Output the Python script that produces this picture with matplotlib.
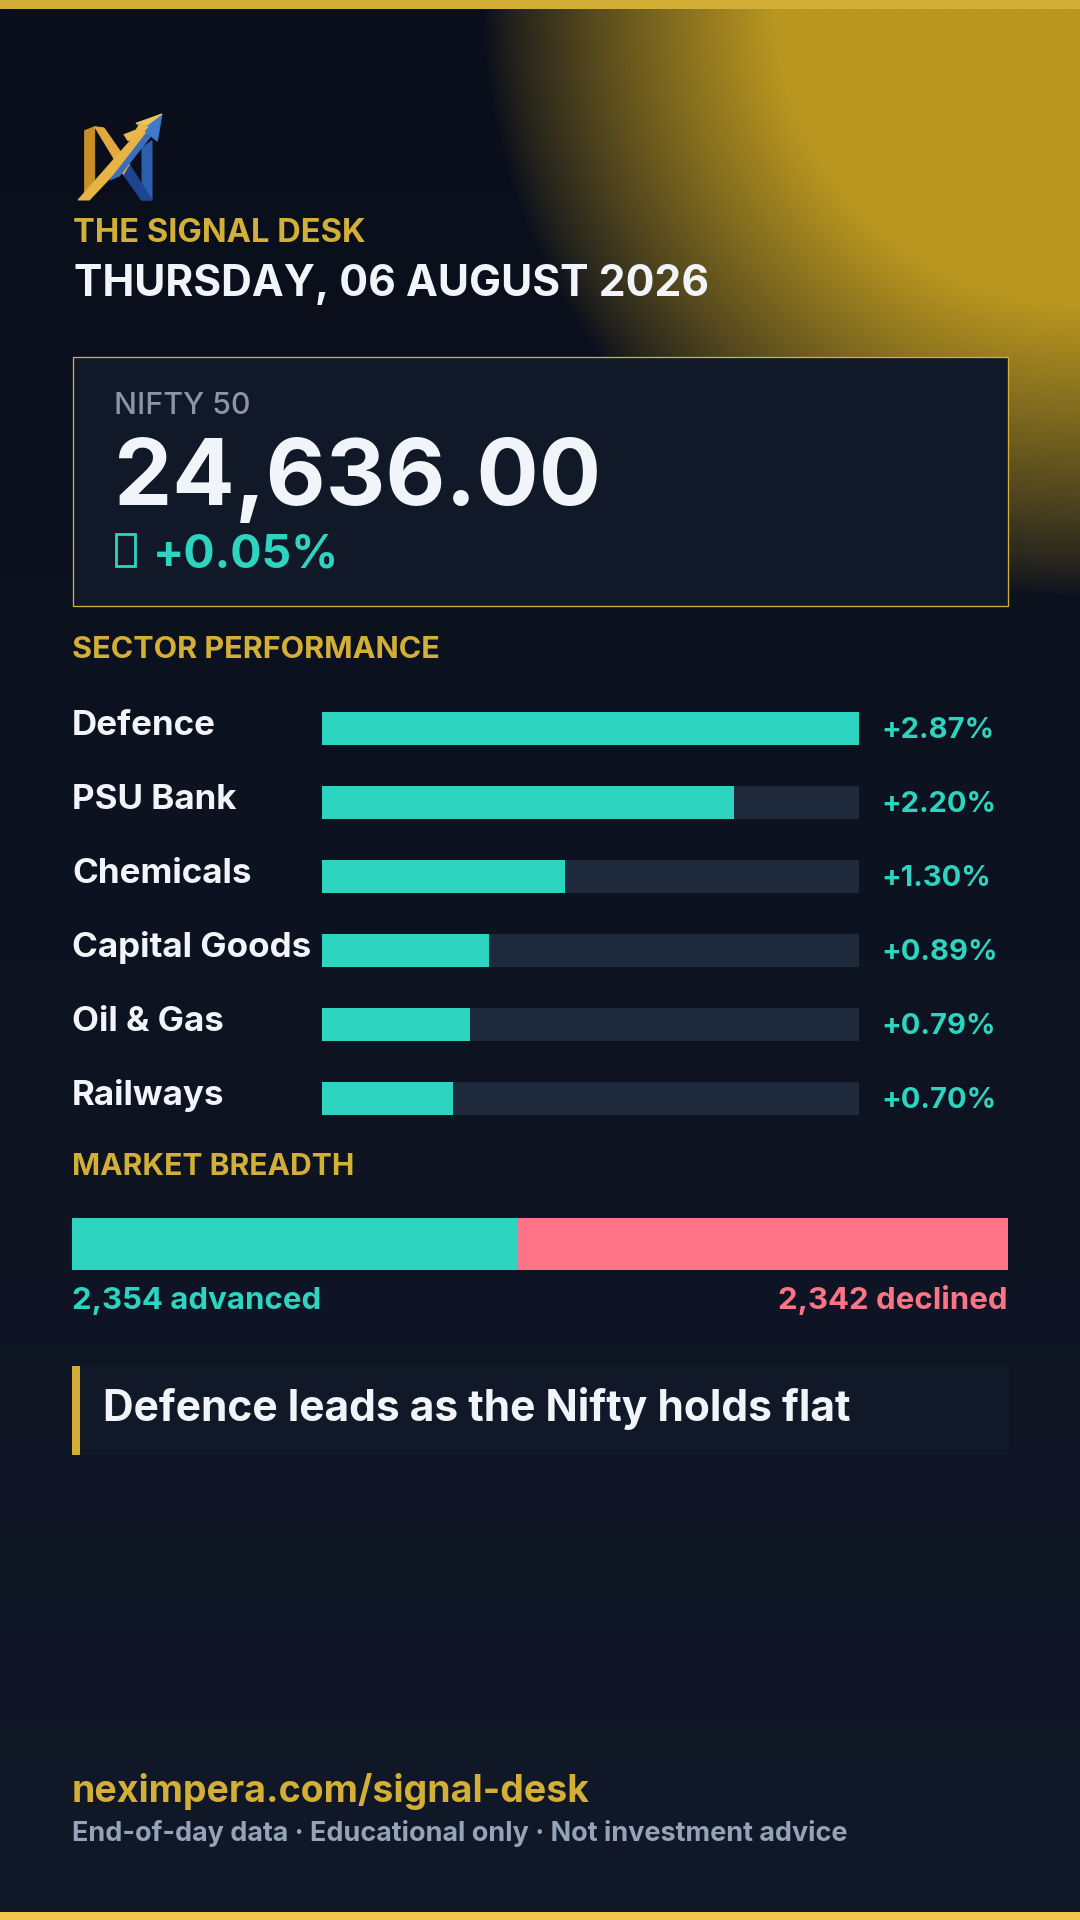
import numpy as np
import matplotlib
matplotlib.use("Agg")
import matplotlib.pyplot as plt
from matplotlib.patches import Rectangle, Polygon

# ---- data ----
brand = "THE SIGNAL DESK"
date_label = "THURSDAY, 06 AUGUST 2026"
index_name = "NIFTY 50"
index_close = 24636.00
index_change = 0.05

sectors = ["Defence", "PSU Bank", "Chemicals", "Capital Goods", "Oil & Gas", "Railways"]
sector_change = [2.87, 2.20, 1.30, 0.89, 0.79, 0.70]

advanced = 2354
declined = 2342
unchanged = 260   # rest of the breadth bar

headline = "Defence leads as the Nifty holds flat"
site = "neximpera.com/signal-desk"
disclaimer = "End-of-day data \u00b7 Educational only \u00b7 Not investment advice"

# ---- colours ----
GOLD = "#d4af37"
TEAL = "#2dd4bf"
RED = "#ff7387"
TRACK = "#1e293b"
BOX = "#111827"
WHITE = "#f1f5f9"
GREY = "#94a3b8"

plt.rcParams["font.family"] = ["Inter", "DejaVu Sans"]

W, H = 1080, 1920
fig = plt.figure(figsize=(W / 72, H / 72), dpi=72)
ax = fig.add_axes([0, 0, 1, 1])
ax.set_xlim(0, W)
ax.set_ylim(H, 0)
ax.axis("off")

# background gradient
grad = np.linspace(0, 1, 256)[:, None]
top = np.array([10, 14, 27]) / 255
bot = np.array([17, 24, 39]) / 255
bg = top + (bot - top) * grad[..., None]
bg = np.repeat(bg, 4, axis=1)
ax.imshow(bg, extent=[0, W, H, 0], aspect="auto", zorder=0)

# gold glow from the top-right corner
gx, gy = np.meshgrid(np.linspace(0, W, 360), np.linspace(0, 700, 240))
r = np.hypot(gx - W, gy)
alpha = np.clip((598 - r) / 290, 0, 1) ** 0.85
glow = np.zeros(gx.shape + (4,))
glow[..., 0] = 184 / 255
glow[..., 1] = 150 / 255
glow[..., 2] = 32 / 255
glow[..., 3] = alpha
ax.imshow(glow, extent=[0, W, 700, 0], aspect="auto", zorder=1, interpolation="bilinear")

# top / bottom gold rules
ax.add_patch(Rectangle((0, 0), W, 8, color=GOLD, zorder=5))
ax.add_patch(Rectangle((0, H - 8), W, 8, color="#f0c64c", zorder=5))

renderer = fig.canvas.get_renderer()


def fit(x, y, s, width, size, **kw):
    t = ax.text(x, y, s, fontsize=size, zorder=6, **kw)
    w = t.get_window_extent(renderer).width
    t.set_fontsize(size * width / w)
    return t


# logo (drawn in 3x zoom coords of the 120x110 logo tile)
def lp(pts):
    return [(60 + px / 3, 100 + py / 3) for px, py in pts]

ax.add_patch(Polygon(lp([(74, 92), (104, 80), (104, 260), (74, 294)]), color="#c98f28", zorder=6))
ax.add_patch(Polygon(lp([(104, 80), (132, 84), (210, 196), (192, 226)]), color="#e2aa3c", zorder=6))
ax.add_patch(Polygon(lp([(246, 144), (276, 122), (276, 300), (246, 300)]), color="#2b5fae", zorder=6))
ax.add_patch(Polygon(lp([(192, 226), (210, 196), (276, 300), (244, 300)]), color="#1d4591", zorder=6))
ax.add_patch(Polygon(lp([(54, 300), (88, 300), (290, 86), (264, 62)]), color="#e8b445", zorder=7))
ax.add_patch(Polygon(lp([(150, 240), (178, 228), (290, 86), (278, 75)]), color="#3a6fc0", zorder=7))
ax.add_patch(Polygon(lp([(306, 42), (228, 70), (292, 124)]), color="#3f7acb", zorder=8))
ax.add_patch(Polygon(lp([(306, 42), (228, 70), (262, 75)]), color="#f0c458", zorder=8))
ax.add_patch(Polygon(lp([(192, 104), (228, 90), (240, 70), (264, 80), (240, 108), (204, 122)]),
                     color="#eab94a", zorder=8))

# header
fit(73, 242, brand, 293, 30, color=GOLD, fontweight="bold")
fit(74, 296, date_label, 635, 42, color=WHITE, fontweight="bold")

# index box
ax.add_patch(Rectangle((72.5, 356.5), 935.5, 249, facecolor=BOX, edgecolor=GOLD, lw=1.3, zorder=4))
fit(114, 414, index_name, 136, 30, color="#8b95a8", fontweight="medium")
fit(114, 505, f"{index_close:,.2f}", 487, 96, color=WHITE, fontweight="bold")
ax.add_patch(Rectangle((116, 534), 19, 32, facecolor="none", edgecolor=TEAL, lw=2.8, zorder=6))
fit(153, 567, f"+{index_change:.2f}%", 186, 46, color=TEAL, fontweight="bold")

# sector performance
fit(72, 658, "SECTOR PERFORMANCE", 369, 30, color=GOLD, fontweight="bold")

row_top, row_h, bar_h = 712, 74, 33
axb = fig.add_axes([322 / W, 1 - (row_top - (row_h - bar_h) / 2 + row_h * len(sectors)) / H,
                    (859 - 322) / W, row_h * len(sectors) / H])
ypos = np.arange(len(sectors))
vmax = max(sector_change)
axb.barh(ypos, [vmax] * len(sectors), height=bar_h / row_h, color=TRACK)
axb.barh(ypos, sector_change, height=bar_h / row_h, color=TEAL)
axb.set_xlim(0, vmax)
axb.set_ylim(len(sectors) - 0.5, -0.5)
axb.axis("off")

t = fit(72, 0, "Capital Goods", 239, 30, color=WHITE, fontweight="bold")
lab_size = t.get_fontsize()
t.remove()
t = fit(881, 0, "+0.89%", 116, 28, color=TEAL, fontweight="bold")
val_size = t.get_fontsize()
t.remove()
for i, (name, v) in enumerate(zip(sectors, sector_change)):
    bt = row_top + i * row_h
    ax.text(72, bt + 23, name, fontsize=lab_size, color=WHITE, fontweight="bold", zorder=6)
    ax.text(881, bt + 26, f"+{v:.2f}%", fontsize=val_size, color=TEAL, fontweight="bold", zorder=6)

# market breadth
fit(72, 1175, "MARKET BREADTH", 283, 30, color=GOLD, fontweight="bold")
axm = fig.add_axes([72 / W, 1 - 1270 / H, 936 / W, 52 / H])
total = advanced + declined + unchanged
axm.barh(0, advanced, height=1, color=TEAL)
axm.barh(0, total - advanced, left=advanced, height=1, color=RED)
axm.set_xlim(0, total)
axm.set_ylim(-0.5, 0.5)
axm.axis("off")
t = fit(72, 1309, f"{advanced:,} advanced", 249, 30, color=TEAL, fontweight="bold")
ax.text(1008, 1309, f"{declined:,} declined", fontsize=t.get_fontsize(), color=RED,
        fontweight="bold", ha="right", zorder=6)

# headline callout
ax.add_patch(Rectangle((79, 1366), 929, 88, color="#111827", zorder=3))
ax.add_patch(Rectangle((72, 1366), 7, 88, color=GOLD, zorder=4))
fit(103, 1421, headline, 750, 40, color=WHITE, fontweight="bold")

# footer
fit(72, 1802, site, 517, 36, color=GOLD, fontweight="bold")
fit(72, 1841, disclaimer, 775, 26, color=GREY, fontweight="bold")

fig.savefig("out.png", dpi=72, facecolor=fig.get_facecolor())
